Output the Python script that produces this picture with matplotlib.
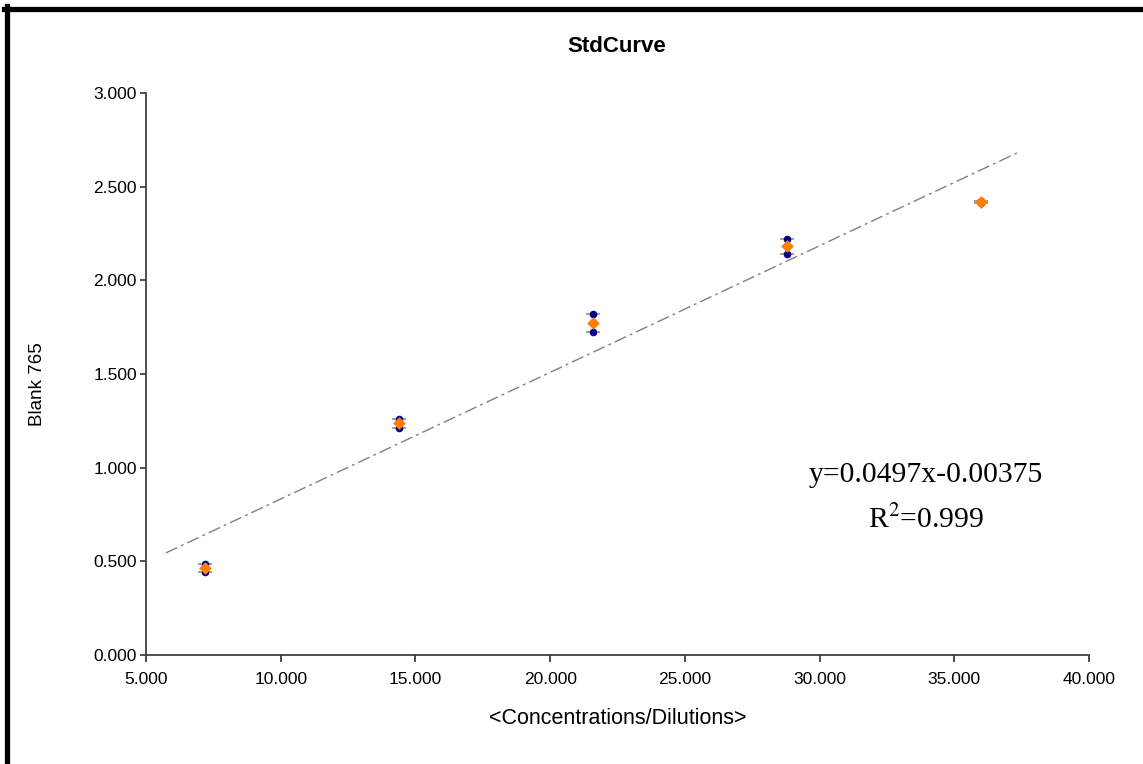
import numpy as np
import matplotlib.pyplot as plt
from matplotlib.lines import Line2D
from matplotlib.ticker import FormatStrFormatter

# replicate readings per standard
conc = [7.2, 14.4, 21.6, 28.8, 36.0]
rep_hi = [0.487, 1.260, 1.819, 2.221, 2.425]
rep_lo = [0.443, 1.214, 1.726, 2.141, 2.415]
means = [0.465, 1.237, 1.774, 2.185, 2.420]

# fitted trend line end points as drawn
trend_x = [5.74, 37.33]
trend_y = [0.545, 2.68]

eq_text = "y=0.0497x-0.00375"
r2_text = "R$^{2}$=0.999"

plt.rcParams['font.family'] = ['Liberation Sans', 'DejaVu Sans']
plt.rcParams['mathtext.fontset'] = 'stix'

W, H = 1143, 764


def px(x, y):
    # pixel position (from top-left) -> figure fraction
    return x / W, 1 - y / H


fig = plt.figure(figsize=(W / 100, H / 100), dpi=100)
ax = fig.add_axes([146 / W, 1 - 655 / H, (1089 - 146) / W, (655 - 93) / H])

spine_col = '#404040'
for s in ['top', 'right']:
    ax.spines[s].set_visible(False)
for s in ['left', 'bottom']:
    ax.spines[s].set_color(spine_col)
    ax.spines[s].set_linewidth(1.3)

ax.plot(trend_x, trend_y, color='#808080', lw=1.0, linestyle=(0, (9, 3, 2, 3)), zorder=1)

lo_err = np.array(means) - np.array(rep_lo)
hi_err = np.array(rep_hi) - np.array(means)
ax.errorbar(conc, means, yerr=[lo_err, hi_err], fmt='none', ecolor='#999999',
            elinewidth=0.8, capsize=5, capthick=1.3, zorder=2)
ax.scatter(conc + conc, rep_hi + rep_lo, s=30, color='#00008B', zorder=3, linewidths=0)
ax.scatter(conc, means, s=42, marker='D', color='#FF8000', zorder=4, linewidths=0)

ax.set_xlim(5, 40)
ax.set_ylim(0, 3)
ax.set_xticks(np.arange(5, 40.1, 5))
ax.set_yticks(np.arange(0, 3.01, 0.5))
ax.xaxis.set_major_formatter(FormatStrFormatter('%.3f'))
ax.yaxis.set_major_formatter(FormatStrFormatter('%.3f'))
ax.tick_params(direction='out', width=1.3, color=spine_col, labelsize=12.5)
ax.tick_params(axis='x', length=5, pad=7)
ax.tick_params(axis='y', length=4.5, pad=2)

fig.text(*px(617, 47), "StdCurve", fontsize=16, fontweight='bold', ha='center', va='center')
fig.text(*px(618, 719), "<Concentrations/Dilutions>", fontsize=15.5, ha='center', va='center')
fig.text(*px(37, 384), "Blank 765", fontsize=13.5, rotation=90, ha='center', va='center')

fig.text(*px(926, 482), eq_text, ha='center', va='baseline',
         fontsize=21.3, family='Liberation Serif')
fig.text(*px(926, 528), r2_text, ha='center', va='baseline',
         fontsize=21.3, family='Liberation Serif')

# outer frame (left and top edges)
fig.add_artist(Line2D([6.5 / W, 6.5 / W], [0, 1 - 6 / H], transform=fig.transFigure,
                      color='black', lw=3.8))
fig.add_artist(Line2D([4 / W, 1], [1 - 8.5 / H, 1 - 8.5 / H], transform=fig.transFigure,
                      color='black', lw=3.8))

fig.savefig('out.png', dpi=100)
